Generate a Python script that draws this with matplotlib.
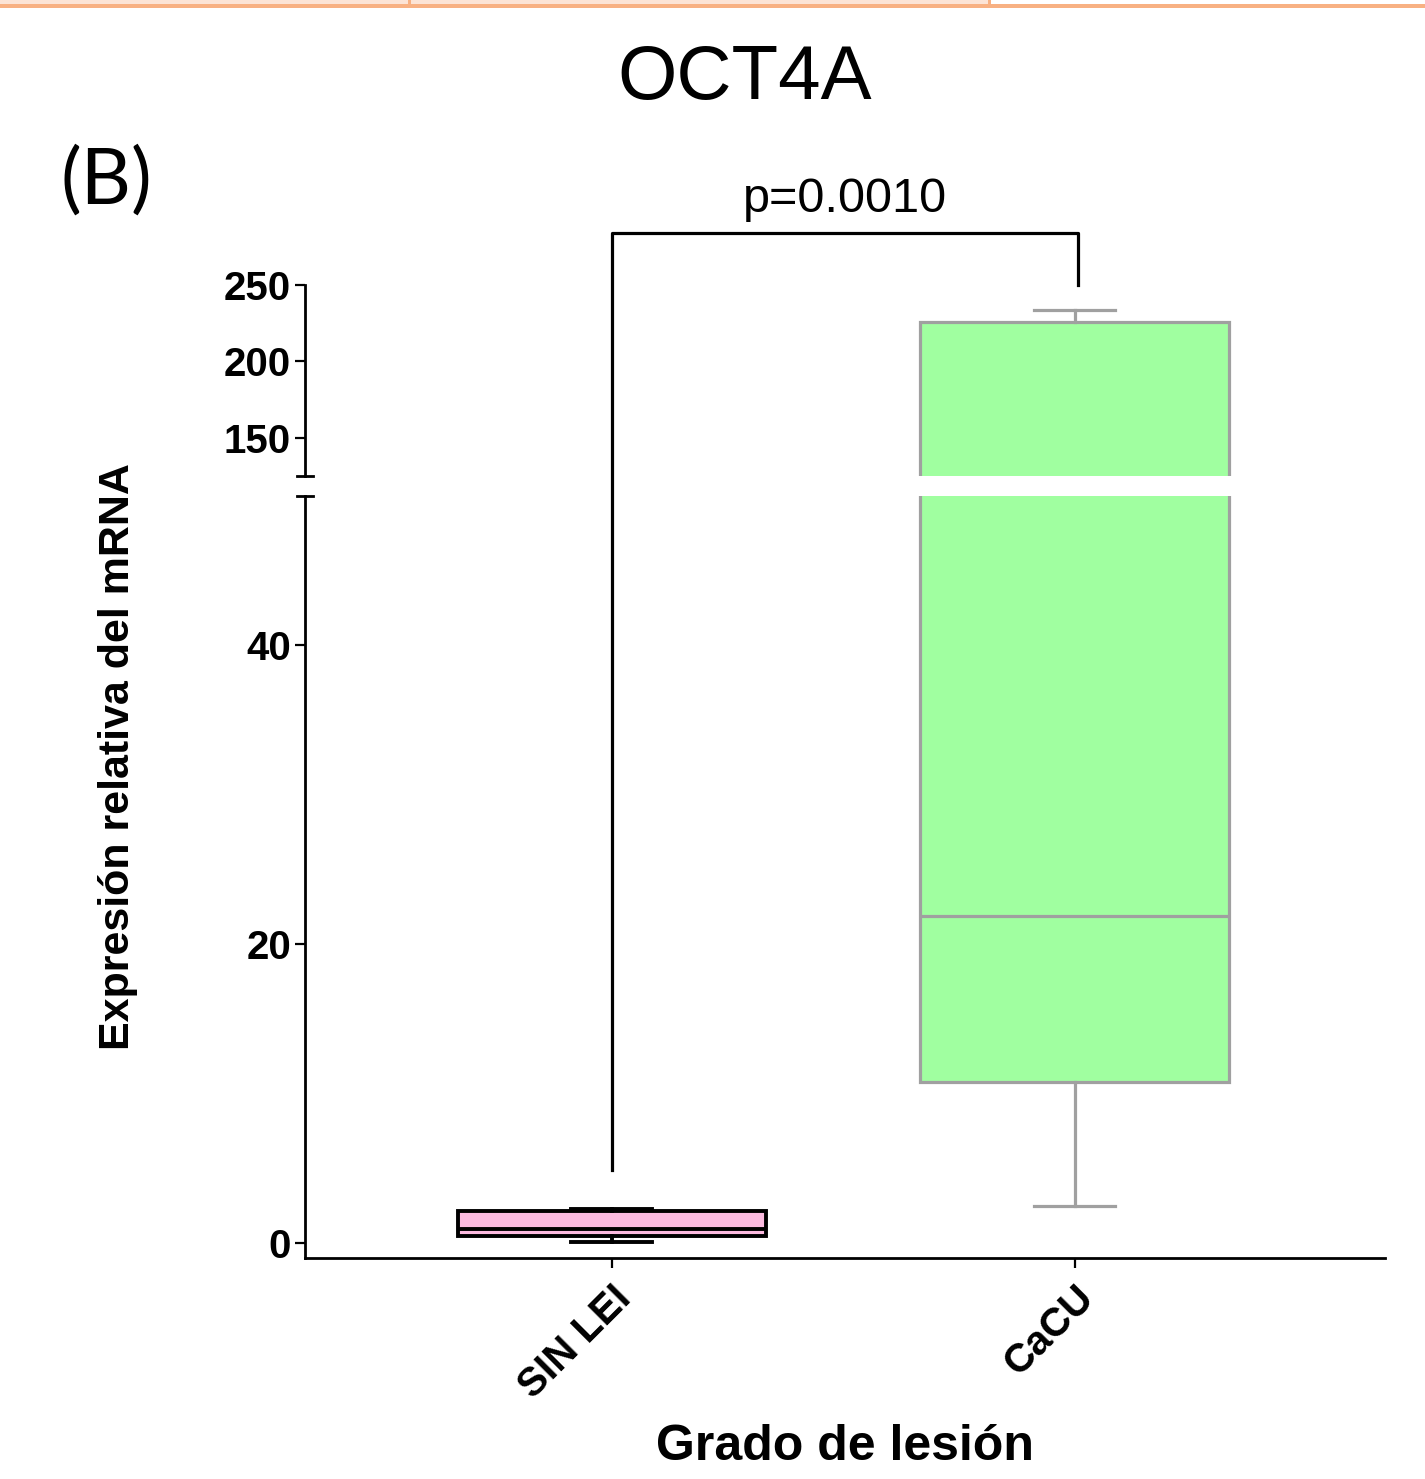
import matplotlib
matplotlib.use('Agg')
from matplotlib import pyplot as plt
from matplotlib.lines import Line2D
from matplotlib.patches import Rectangle

plt.rcParams['font.family'] = ['Liberation Sans', 'DejaVu Sans']

# data
groups = ['SIN LEI', 'CaCU']
w_low = [0.07, 2.5]
q1 = [0.47, 10.8]
median = [0.94, 21.9]
q3 = [2.14, 225.7]
w_high = [2.27, 233.6]
fills = ['#FBBADF', '#A0FFA0']
edges = ['black', '#A0A0A0']
edge_lw = [2.8, 2.3]
p_text = 'p=0.0010'

W, H = 1425, 1479
fig = plt.figure(figsize=(W / 100, H / 100), dpi=100)


def fx(px):
    return px / W


def fy(px):
    return 1 - px / H


left, right = fx(305), fx(1385)
ax_hi = fig.add_axes([left, fy(476), right - left, fy(285) - fy(476)])
ax_lo = fig.add_axes([left, fy(1258), right - left, fy(496) - fy(1258)])

stats = []
for i in range(len(groups)):
    stats.append(dict(med=median[i], q1=q1[i], q3=q3[i],
                      whislo=w_low[i], whishi=w_high[i], fliers=[]))

for ax in (ax_hi, ax_lo):
    for i, st in enumerate(stats):
        ax.bxp([st], positions=[i + 1], widths=0.667, capwidths=0.175,
               patch_artist=True, showfliers=False,
               boxprops=dict(facecolor=fills[i], edgecolor=edges[i], linewidth=edge_lw[i]),
               medianprops=dict(color=edges[i], linewidth=edge_lw[i]),
               whiskerprops=dict(color=edges[i], linewidth=edge_lw[i]),
               capprops=dict(color=edges[i], linewidth=edge_lw[i]))
    ax.set_xlim(0.337, 2.67)
    for s in ('top', 'right'):
        ax.spines[s].set_visible(False)
    ax.spines['left'].set_linewidth(2.0)
    ax.spines['bottom'].set_linewidth(2.0)
    ax.tick_params(axis='y', length=7, width=1.6, labelsize=29, pad=3)

ax_hi.set_ylim(125, 250)
ax_hi.set_yticks([150, 200, 250])
ax_hi.set_yticklabels(['150', '200', '250'], fontweight='bold')
ax_hi.spines['bottom'].set_visible(False)
ax_hi.set_xticks([])

ax_lo.set_ylim(-1, 50)
ax_lo.set_yticks([0, 20, 40])
ax_lo.set_yticklabels(['0', '20', '40'], fontweight='bold')
ax_lo.set_xticks([1, 2])
ax_lo.set_xticklabels(groups, rotation=45, ha='right', va='top',
                      rotation_mode='anchor', fontweight='bold', fontsize=29)
ax_lo.tick_params(axis='x', length=7, width=1.6, pad=8)

# break marks on the y axis
d = 0.0075
ax_hi.plot([-d, d], [0, 0], transform=ax_hi.transAxes, color='black',
           lw=2.0, clip_on=False)
ax_lo.plot([-d, d], [1, 1], transform=ax_lo.transAxes, color='black',
           lw=2.0, clip_on=False)

# significance bracket
inv = fig.transFigure.inverted()
a = inv.transform(ax_lo.transData.transform((1, 4.9)))
b = inv.transform(ax_hi.transData.transform((1, 284)))
c = inv.transform(ax_hi.transData.transform((2.006, 284)))
e = inv.transform(ax_hi.transData.transform((2.006, 250)))
fig.add_artist(Line2D([a[0], b[0], c[0], e[0]], [a[1], b[1], c[1], e[1]],
                      color='black', lw=2.3))
fig.text((b[0] + c[0]) / 2, fy(199), p_text, ha='center', va='center', fontsize=35)

fig.text(fx(745), fy(80), 'OCT4A', ha='center', va='center', fontsize=55)
fig.text(fx(60), fy(182), '(B)', ha='left', va='center', fontsize=56,
         family=['Lato', 'DejaVu Sans'])
fig.text(fx(118), fy(757), 'Expresión relativa del mRNA', rotation=90,
         ha='center', va='center', fontsize=31, fontweight='bold')
fig.text(fx(845), fy(1447), 'Grado de lesión', ha='center', va='center',
         fontsize=36, fontweight='bold')

# orange band left over at the top of the page
fig.add_artist(Rectangle((0, fy(4)), fx(989), fy(0) - fy(4),
                         transform=fig.transFigure, color='#FCE4D6', lw=0))
fig.add_artist(Rectangle((0, fy(8)), 1, fy(4) - fy(8),
                         transform=fig.transFigure, color='#F8B183', lw=0))
for xs in (409, 989):
    fig.add_artist(Rectangle((fx(xs - 1.5), fy(4)), fx(3), fy(0) - fy(4),
                             transform=fig.transFigure, color='#F8B183', lw=0))

fig.savefig('out.png', dpi=100)
